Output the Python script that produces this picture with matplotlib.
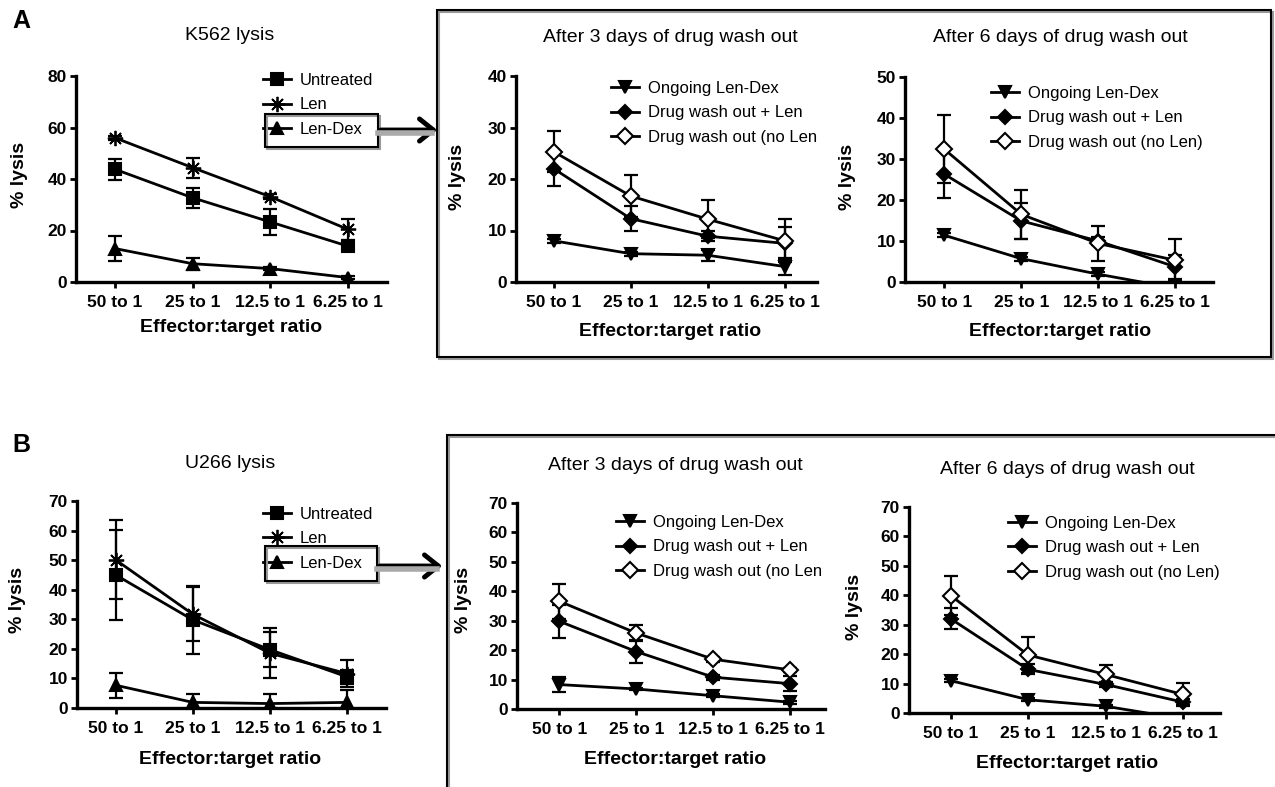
import matplotlib
matplotlib.use("Agg")
import matplotlib.pyplot as plt
from matplotlib.lines import Line2D
from matplotlib.patches import Rectangle, FancyArrowPatch

plt.rcParams['font.family'] = ['Liberation Sans', 'DejaVu Sans']

W, H = 1275, 787

# shared categories
ratios = ["50 to 1", "25 to 1", "12.5 to 1", "6.25 to 1"]

# --- A: K562 lysis ---
k562_untreated = [43.8, 32.7, 23.3, 13.9]
k562_untreated_err = [4.0, 3.9, 5.0, 2.0]
k562_len = [56.0, 44.4, 33.1, 20.4]
k562_len_err = [0.8, 3.9, 1.0, 4.1]
k562_lendex = [13.0, 7.1, 5.2, 1.7]
k562_lendex_err = [4.7, 2.3, 0.5, 0.5]

# --- A: after 3 days wash out ---
k3_ongoing = [8.0, 5.5, 5.2, 3.0]
k3_ongoing_err = [0.4, 0.4, 1.1, 1.6]
k3_wash_len = [22.0, 12.3, 8.9, 7.5]
k3_wash_len_err = [3.4, 2.4, 1.0, 3.1]
k3_wash = [25.3, 16.7, 12.2, 8.0]
k3_wash_err = [4.0, 4.1, 3.7, 4.2]

# --- A: after 6 days wash out ---
k6_ongoing = [11.4, 5.7, 1.9, -1.5]
k6_ongoing_err = [0.5, 0.5, 0.5, 0.5]
k6_wash_len = [26.3, 14.9, 10.0, 3.7]
k6_wash_len_err = [5.8, 4.3, 1.0, 2.9]
k6_wash = [32.4, 16.5, 9.4, 5.3]
k6_wash_err = [8.3, 5.9, 4.3, 5.1]

# --- B: U266 lysis ---
u266_untreated = [45.0, 29.8, 19.7, 10.5]
u266_untreated_err = [15.2, 11.4, 6.0, 2.5]
u266_len = [50.1, 31.7, 18.5, 11.6]
u266_len_err = [13.4, 9.2, 8.5, 4.5]
u266_lendex = [7.7, 1.9, 1.5, 1.9]
u266_lendex_err = [4.3, 2.9, 3.2, 4.3]

# --- B: after 3 days wash out ---
u3_ongoing = [8.3, 6.8, 4.5, 2.3]
u3_ongoing_err = [2.5, 0.5, 0.5, 0.5]
u3_wash_len = [29.8, 19.5, 10.8, 8.6]
u3_wash_len_err = [5.6, 3.9, 0.8, 2.6]
u3_wash = [36.6, 25.8, 16.9, 13.3]
u3_wash_err = [5.9, 2.8, 0.8, 0.8]

# --- B: after 6 days wash out ---
u6_ongoing = [11.0, 4.5, 2.3, -2.0]
u6_ongoing_err = [0.5, 0.5, 0.5, 0.5]
u6_wash_len = [32.0, 14.8, 9.7, 3.7]
u6_wash_len_err = [3.6, 1.7, 0.8, 1.0]
u6_wash = [39.9, 19.7, 13.1, 6.3]
u6_wash_err = [6.6, 6.2, 3.1, 3.9]

lysis_labels = ["Untreated", "Len", "Len-Dex"]
wash_labels = ["Ongoing Len-Dex", "Drug wash out + Len", "Drug wash out (no Len)"]
wash_labels_cut = ["Ongoing Len-Dex", "Drug wash out + Len", "Drug wash out (no Len"]

fig = plt.figure(figsize=(W / 100, H / 100), dpi=100)


def fx(x):
    return x / W


def fy(y):
    return 1 - y / H


def add_panel(x0, x1, y0, y1, xlim):
    ax = fig.add_axes([fx(x0), fy(y1), (x1 - x0) / W, (y1 - y0) / H])
    ax.set_xlim(*xlim)
    for s in ['top', 'right']:
        ax.spines[s].set_visible(False)
    for s in ['left', 'bottom']:
        ax.spines[s].set_linewidth(2.4)
    ax.tick_params(width=2, length=4.5)
    ax.tick_params(axis='y', pad=2)
    ax.tick_params(axis='x', pad=5)
    ax.set_xticks(range(len(ratios)))
    ax.set_xticklabels(ratios)
    for lab in ax.get_xticklabels() + ax.get_yticklabels():
        lab.set_fontsize(12.5)
        lab.set_fontweight('bold')
    return ax


def series(ax, vals, errs, marker, ms, face='black', label=None, mew=1.5):
    x = range(len(vals))
    ax.errorbar(x, vals, yerr=errs, fmt='none', ecolor='black',
                capsize=5, capthick=1.6, elinewidth=1.6)
    ax.plot(x, vals, color='black', lw=2, marker=marker, ms=ms, mfc=face,
            mec='black', mew=mew, label=label)


def legend(ax, x, y):
    ax.legend(loc='upper left', bbox_to_anchor=(fx(x), fy(y)),
              bbox_transform=fig.transFigure, frameon=False, fontsize=12,
              handlelength=1.7, handletextpad=0.5, labelspacing=0.56,
              borderpad=0, borderaxespad=0)


def labels(title, tx, ty, xlx, xly, ylx, yly):
    fig.text(fx(tx), fy(ty), title, fontsize=14, ha='center', va='center')
    fig.text(fx(xlx), fy(xly), "Effector:target ratio", fontsize=14,
             fontweight='bold', ha='center', va='center')
    fig.text(fx(ylx), fy(yly), "% lysis", fontsize=14, fontweight='bold',
             rotation=90, ha='center', va='center')


ast = (8, 2, 0)

# ---------------- row A ----------------
ax = add_panel(76, 387, 76, 282, (-0.5, 3.5))
ax.set_ylim(0, 80)
ax.set_yticks(range(0, 81, 20))
series(ax, k562_untreated, k562_untreated_err, 's', 8, label=lysis_labels[0])
series(ax, k562_len, k562_len_err, ast, 11, label=lysis_labels[1], mew=1.3)
series(ax, k562_lendex, k562_lendex_err, '^', 8, label=lysis_labels[2])
legend(ax, 263, 73)
labels("K562 lysis", 230, 36, 231, 327, 20, 175)

ax = add_panel(516, 817, 76, 282, (-0.49, 3.42))
ax.set_ylim(0, 40)
ax.set_yticks(range(0, 41, 10))
series(ax, k3_ongoing, k3_ongoing_err, 'v', 9, label=wash_labels_cut[0])
series(ax, k3_wash_len, k3_wash_len_err, 'D', 7, label=wash_labels_cut[1])
series(ax, k3_wash, k3_wash_err, 'D', 8, face='white', label=wash_labels_cut[2])
legend(ax, 611, 81)
labels("After 3 days of drug wash out", 670, 38, 670, 332, 458, 177)

ax = add_panel(905, 1213, 77, 282, (-0.51, 3.49))
ax.set_ylim(0, 50)
ax.set_yticks(range(0, 51, 10))
series(ax, k6_ongoing, k6_ongoing_err, 'v', 9, label=wash_labels[0])
series(ax, k6_wash_len, k6_wash_len_err, 'D', 7, label=wash_labels[1])
series(ax, k6_wash, k6_wash_err, 'D', 8, face='white', label=wash_labels[2])
legend(ax, 991, 86)
labels("After 6 days of drug wash out", 1060, 38, 1060, 332, 847, 177)

# ---------------- row B ----------------
ax = add_panel(77, 386, 501, 708, (-0.5, 3.5))
ax.set_ylim(0, 70)
ax.set_yticks(range(0, 71, 10))
series(ax, u266_untreated, u266_untreated_err, 's', 8, label=lysis_labels[0])
series(ax, u266_len, u266_len_err, ast, 11, label=lysis_labels[1], mew=1.3)
series(ax, u266_lendex, u266_lendex_err, '^', 8, label=lysis_labels[2])
legend(ax, 263, 507)
labels("U266 lysis", 230, 463, 230, 759, 18, 600)

ax = add_panel(517, 825, 503, 709, (-0.55, 3.45))
ax.set_ylim(0, 70)
ax.set_yticks(range(0, 71, 10))
series(ax, u3_ongoing, u3_ongoing_err, 'v', 9, label=wash_labels_cut[0])
series(ax, u3_wash_len, u3_wash_len_err, 'D', 7, label=wash_labels_cut[1])
series(ax, u3_wash, u3_wash_err, 'D', 8, face='white', label=wash_labels_cut[2])
legend(ax, 616, 515)
labels("After 3 days of drug wash out", 675, 465, 675, 759, 463, 600)

ax = add_panel(909, 1220, 507, 713, (-0.54, 3.48))
ax.set_ylim(0, 70)
ax.set_yticks(range(0, 71, 10))
series(ax, u6_ongoing, u6_ongoing_err, 'v', 9, label=wash_labels[0])
series(ax, u6_wash_len, u6_wash_len_err, 'D', 7, label=wash_labels[1])
series(ax, u6_wash, u6_wash_err, 'D', 8, face='white', label=wash_labels[2])
legend(ax, 1008, 516)
labels("After 6 days of drug wash out", 1067, 469, 1067, 763, 855, 607)

# ---------------- decorations ----------------
fig.text(fx(21), fy(21), "A", fontsize=18, fontweight='bold', ha='center', va='center')
fig.text(fx(21), fy(445), "B", fontsize=18, fontweight='bold', ha='center', va='center')


def frame(x0, y0, x1, y1, lw=1.5):
    # grey shadow first, then black line
    fig.add_artist(Rectangle((fx(x0 + 2), fy(y1 + 2)), (x1 - x0) / W, (y1 - y0) / H,
                             transform=fig.transFigure, fill=False,
                             edgecolor='#999999', lw=lw))
    fig.add_artist(Rectangle((fx(x0), fy(y1)), (x1 - x0) / W, (y1 - y0) / H,
                             transform=fig.transFigure, fill=False,
                             edgecolor='black', lw=lw))


# big boxes around wash out panels
frame(437, 10, 1271, 357)
frame(447, 435, 1300, 820)

# boxes around Len-Dex legend entries
frame(265, 114, 378, 147)
frame(265, 546, 377, 581)


def arrow(x0, x1, y):
    # grey shadow under the shaft
    fig.add_artist(Line2D([fx(x0), fx(x1 - 8)], [fy(y + 3), fy(y + 3)],
                          transform=fig.transFigure, color='#aaaaaa', lw=4))
    fig.add_artist(FancyArrowPatch(
        (fx(x0), fy(y)), (fx(x1), fy(y)), transform=fig.transFigure,
        arrowstyle='->,head_length=10,head_width=8', color='black', lw=3.5))


arrow(378, 440, 130)
arrow(377, 445, 566)

fig.savefig("out.png", dpi=100)
